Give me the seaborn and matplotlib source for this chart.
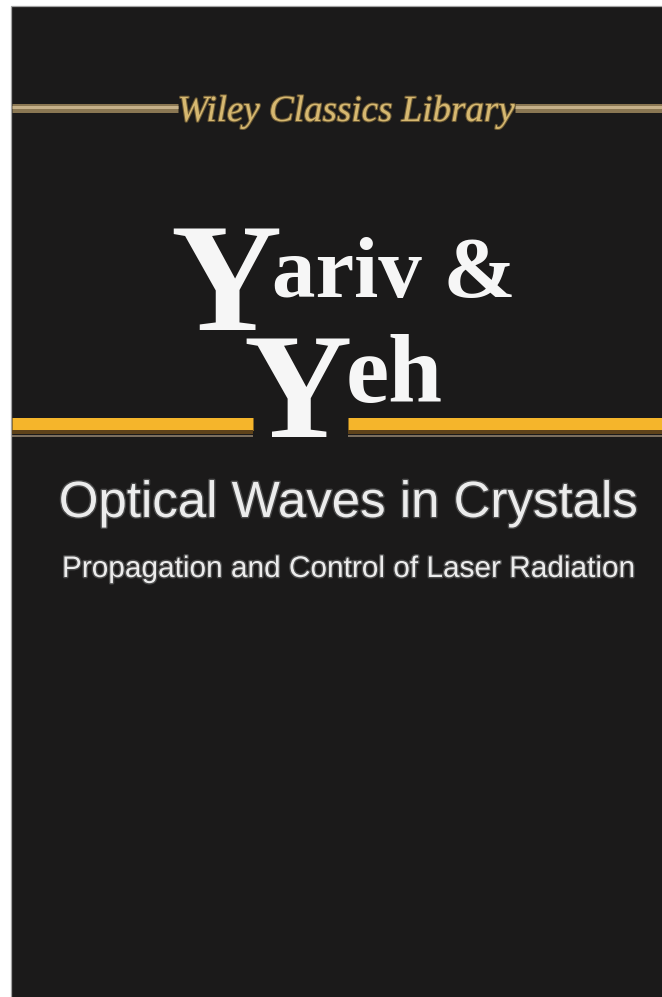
"""
Book cover: Yariv & Yeh, Optical Waves in Crystals (Wiley Classics Library).
"""

import pandas as pd
import matplotlib
matplotlib.use("Agg")
import matplotlib.pyplot as plt
import matplotlib.patheffects as pe
from matplotlib.patches import Rectangle
import seaborn as sns

# --- cover text ---
series_name = "Wiley Classics Library"
author_caps = ["Y", "Y"]
author_rest = ["ariv &", "eh"]
title = "Optical Waves in Crystals"
subtitle = "Propagation and Control of Laser Radiation"

# --- horizontal rules (pixel extents on the cover) ---
rule_seg = ["gold_l", "gold_r", "yellow_l", "yellow_r"]
rule_x0 = [12, 515, 12, 348]
rule_x1 = [178, 662, 253, 662]
rule_y = [108.5, 108.5, 423.5, 423.5]


def px(v):
    # pixels -> points at dpi 100
    return v * 0.72


def draw_rules(ax, names, y_off, color, width_px):
    rows = []
    for name, x0, x1, y in zip(rule_seg, rule_x0, rule_x1, rule_y):
        if name.split("_")[0] not in names:
            continue
        rows.append({"seg": name, "x": x0, "y": y + y_off})
        rows.append({"seg": name, "x": x1, "y": y + y_off})
    df = pd.DataFrame(rows)
    sns.lineplot(data=df, x="x", y="y", units="seg", estimator=None, sort=False,
                 color=color, linewidth=px(width_px), solid_capstyle="butt",
                 legend=False, ax=ax)


def plot_cover(save_path: str) -> None:
    sns.set_theme(style="white")
    plt.rcParams["font.family"] = ["Liberation Sans", "DejaVu Sans"]

    fig = plt.figure(figsize=(6.62, 9.97), dpi=100)
    ax = fig.add_axes([0, 0, 1, 1])

    # page + dark cover
    ax.add_patch(Rectangle((0, 0), 662, 997, fc="white", ec="none", zorder=0))
    ax.add_patch(Rectangle((11, 6), 660, 1000, fc="#1b1a1a", ec="#a3a3a3",
                           lw=0.9, zorder=0.5))

    # gold rule under the series name
    draw_rules(ax, ["gold"], 0, "#8a7753", 9)
    draw_rules(ax, ["gold"], -1, "#c5b089", 3)

    # yellow band with brown shadow
    draw_rules(ax, ["yellow"], 0, "#f5b52b", 13)
    draw_rules(ax, ["yellow"], 8.5, "#5e4219", 4)
    draw_rules(ax, ["yellow"], 12, "#9b8a74", 1.5)

    # series name
    ax.text(346, 121, series_name, ha="center", va="baseline",
            family="Liberation Serif", style="italic", fontsize=px(37),
            color="#d6b871", zorder=3,
            path_effects=[pe.withStroke(linewidth=1.5, foreground="#6d5a33")])

    # authors
    serif_bold = dict(family="Liberation Serif", weight="bold", color="#f6f6f6",
                      va="baseline", zorder=4)
    ax.text(226, 330, author_caps[0], ha="center", fontsize=px(154), **serif_bold)
    ax.text(272, 297, author_rest[0], ha="left", fontsize=px(87), **serif_bold)
    ax.text(298, 437, author_caps[1], ha="center", fontsize=px(150), **serif_bold)
    ax.text(346, 402, author_rest[1], ha="left", fontsize=px(97), **serif_bold)

    # title and subtitle
    glow = [pe.withStroke(linewidth=2, foreground="#4a4a4a")]
    ax.text(348, 517, title, ha="center", va="baseline", fontsize=px(51),
            color="#ececec", path_effects=glow, zorder=3)
    ax.text(348, 577, subtitle, ha="center", va="baseline", fontsize=px(29.8),
            color="#ececec", path_effects=glow, zorder=3)

    ax.set_xlim(0, 662)
    ax.set_ylim(997, 0)
    ax.axis("off")

    fig.savefig(save_path, dpi=100)
    plt.close(fig)


if __name__ == "__main__":
    plot_cover("out.png")
